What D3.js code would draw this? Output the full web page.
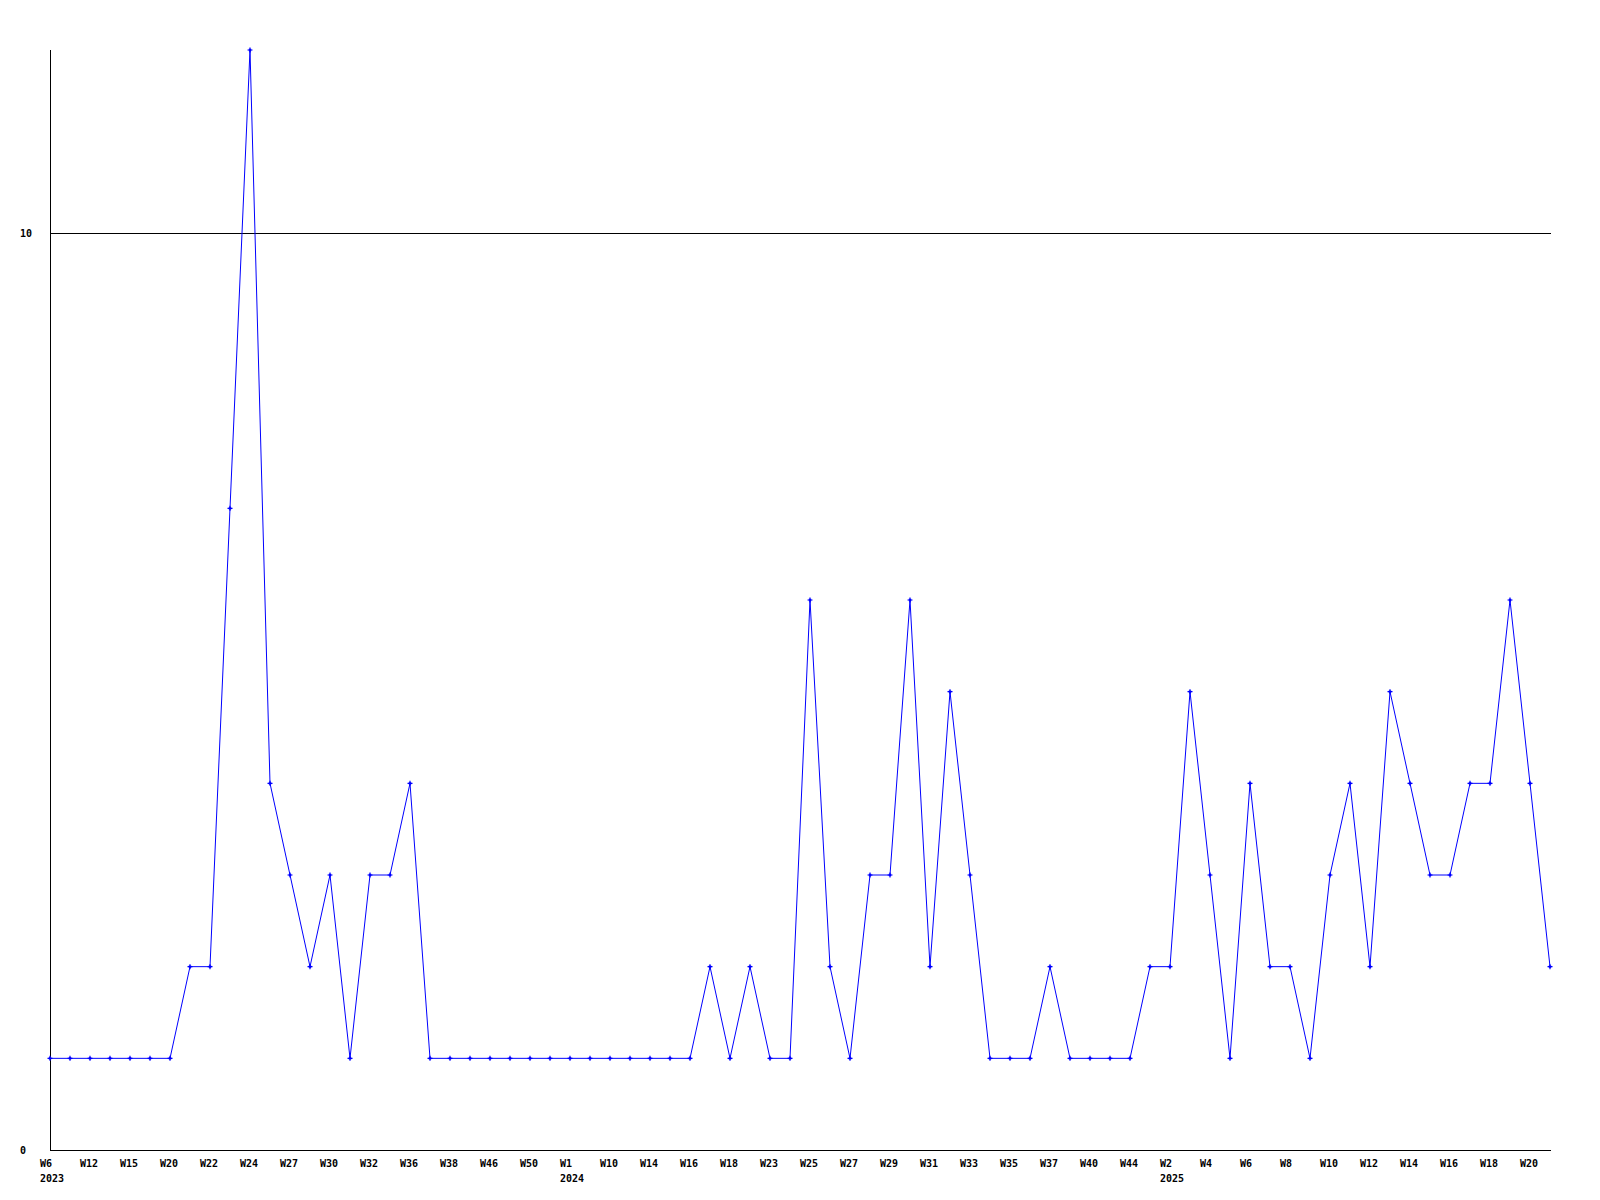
<!DOCTYPE html>
<html>
<head>
<meta charset="utf-8">
<script src="https://cdn.jsdelivr.net/npm/d3@7"></script>
<style>
  html, body { margin: 0; padding: 0; background: #fff; }
  svg text { font-family: "DejaVu Sans Mono", "Liberation Mono", monospace; font-weight: bold; font-size: 10px; fill: #000; }
</style>
</head>
<body>
<svg id="chart" width="1600" height="1200"></svg>
<script>
// Week labels (one per two data points)
const weekLabels = ["W6","W12","W15","W20","W22","W24","W27","W30","W32","W36","W38","W46","W50",
  "W1","W10","W14","W16","W18","W23","W25","W27","W29","W31","W33","W35","W37","W40","W44",
  "W2","W4","W6","W8","W10","W12","W14","W16","W18","W20"];
// Year labels and the data index they sit under
const yearLabels = ["2023","2024","2025"];
const yearIndex = [0, 26, 56];
// Series values
const values = [1,1,1,1,1,1,1,2,2,7,12,4,3,2,3,1,3,3,4,1,
  1,1,1,1,1,1,1,1,1,1,1,1,1,2,1,2,1,1,6,2,
  1,3,3,6,2,5,3,1,1,1,2,1,1,1,1,2,2,5,3,1,
  4,2,2,1,3,4,2,5,4,3,3,4,4,6,4,2];
const yTicks = [0, 10];

const svg = d3.select("#chart");
const x = d3.scaleLinear().domain([0, values.length - 1]).range([50, 1550]);
const y = d3.scaleLinear().domain([0, 12]).range([1150, 50]);

// Grid line at 10
svg.selectAll("line.grid").data(yTicks.filter(d => d !== 0)).join("line")
  .attr("class", "grid")
  .attr("x1", 50).attr("x2", 1551)
  .attr("y1", d => Math.round(y(d)) + 0.5).attr("y2", d => Math.round(y(d)) + 0.5)
  .attr("stroke", "#000").attr("stroke-width", 1).attr("shape-rendering", "crispEdges");

// Axes lines
svg.append("line").attr("x1", 50.5).attr("x2", 50.5).attr("y1", 50).attr("y2", 1150.5)
  .attr("stroke", "#000").attr("shape-rendering", "crispEdges");
svg.append("line").attr("x1", 50).attr("x2", 1551).attr("y1", 1150.5).attr("y2", 1150.5)
  .attr("stroke", "#000").attr("shape-rendering", "crispEdges");

// Y tick labels
svg.selectAll("text.ytick").data(yTicks).join("text")
  .attr("class", "ytick")
  .attr("x", 20)
  .attr("y", d => y(d) + 4)
  .text(d => d);

// X week labels
svg.selectAll("text.week").data(weekLabels).join("text")
  .attr("class", "week")
  .attr("x", (d, i) => x(i * 2) - 10)
  .attr("y", 1167)
  .text(d => d);

// Year labels
svg.selectAll("text.year").data(yearLabels).join("text")
  .attr("class", "year")
  .attr("x", (d, i) => x(yearIndex[i]) - 10)
  .attr("y", 1182)
  .text(d => d);

// Line
const line = d3.line().x((d, i) => x(i)).y(d => y(d));
svg.append("path").datum(values)
  .attr("d", line)
  .attr("fill", "none")
  .attr("stroke", "#0000ff")
  .attr("stroke-width", 1);

// Markers (small plus)
const markers = svg.selectAll("g.mk").data(values).join("g")
  .attr("class", "mk")
  .attr("transform", (d, i) => `translate(${x(i)},${y(d)})`);
markers.append("path")
  .attr("d", "M-2.5,0H2.5M0,-2.5V2.5")
  .attr("stroke", "#0000ff").attr("stroke-width", 1.2);
markers.append("rect")
  .attr("x", -1.2).attr("y", -1.2).attr("width", 2.4).attr("height", 2.4)
  .attr("fill", "#0000ff");
</script>
</body>
</html>
